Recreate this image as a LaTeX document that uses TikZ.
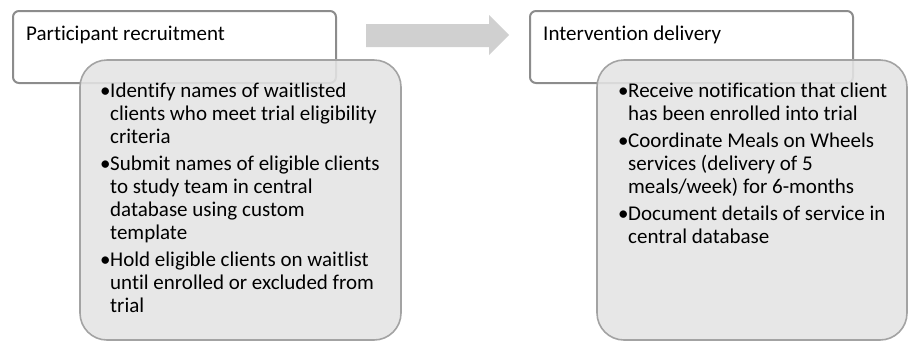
\documentclass[tikz,border=0pt]{standalone}
\usepackage{fontspec}
\setmainfont{Carlito}[Ligatures=NoCommon]
\begin{document}
\begin{tikzpicture}[x=1pt,y=-1pt]
\definecolor{hdrline}{HTML}{8C8C8C}
\definecolor{boxline}{HTML}{A3A3A3}
\definecolor{boxfill}{HTML}{E4E4E4}
\definecolor{arrowfill}{HTML}{D0D0D0}
\tikzset{
  hdrbox/.style={draw=hdrline, line width=2pt, rounded corners=6pt, fill=white},
  listbox/.style={draw=boxline, line width=1.6pt, rounded corners=27pt, fill=boxfill, fill opacity=0.88},
  hdrtext/.style={anchor=base west, inner sep=0pt, font=\fontsize{21}{23}\selectfont},
  listtext/.style={anchor=base west, inner sep=0pt, align=left, font=\fontsize{21}{23}\selectfont},
}
\newcommand{\bul}{\makebox[10pt][l]{•}}
\newcommand{\ind}{\hspace*{10pt}}
\useasboundingbox (0,0) rectangle (909,341);
% left column
\draw[hdrbox] (13,11) rectangle (336,83);
\node[hdrtext] (h1) at (26,40) {Participant recruitment};
\draw[listbox] (80,60) rectangle (401,340);
\node[listtext] (l1) at (100,312) {\bul Identify names of waitlisted\\
\ind clients who meet trial eligibility\\
\ind criteria\\[4pt]
\bul Submit names of eligible clients\\
\ind to study team in central\\
\ind database using custom\\
\ind template\\[4pt]
\bul Hold eligible clients on waitlist\\
\ind until enrolled or excluded from\\
\ind trial};
% arrow
\fill[arrowfill] (366,24) -- (489,24) -- (489,15) -- (509,35) -- (489,55) -- (489,47) -- (366,47) -- cycle;
% right column
\draw[hdrbox] (530,11) rectangle (853,83);
\node[hdrtext] (h2) at (543,40) {Intervention delivery};
\draw[listbox] (597,60) rectangle (907,340);
\node[listtext] (l2) at (618,243) {\bul Receive notification that client\\
\ind has been enrolled into trial\\[4pt]
\bul Coordinate Meals on Wheels\\
\ind services (delivery of 5\\
\ind meals/week) for 6-months\\[4pt]
\bul Document details of service in\\
\ind central database};
\end{tikzpicture}
\end{document}
